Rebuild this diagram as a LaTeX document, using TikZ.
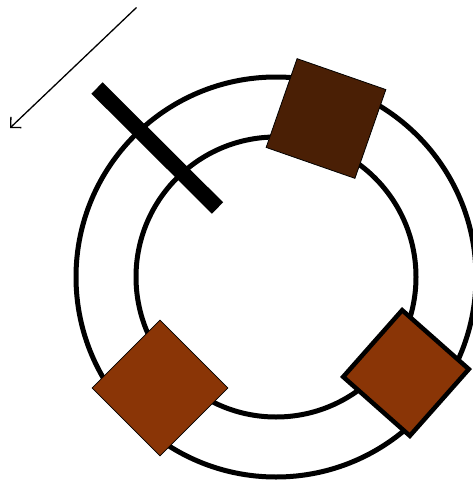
\documentclass[tikz,border=0pt]{standalone}
\usepackage{tikz}
\usetikzlibrary{arrows.meta}
\definecolor{darkrust}{RGB}{74,31,5}
\definecolor{rust}{RGB}{138,53,6}
\def\outerR{200}
\def\innerR{140}
\tikzset{
    ring/.style={line width=5pt},
    block/.style={rectangle, draw, inner sep=0pt, minimum size=#1}
}
\begin{document}
\begin{tikzpicture}[x=1pt, y=-1pt]
\useasboundingbox (0,0) rectangle (473,482);
% rings
\coordinate (c) at (276,277);
\draw[ring] (c) circle[radius=\outerR];
\draw[ring] (c) circle[radius=\innerR];
% bar across the rings
\draw[line width=16pt] (97,88) -- (217.5,208);
% arrow
\coordinate (from) at (136.5,7.5);
\coordinate (to) at (10,128);
\draw[line width=1.3pt, -{Straight Barb[length=7.5pt,width=15pt]}] (from) -- (to);
% blocks
\node[block=94pt, fill=darkrust, line width=0.8pt, rotate=-19.2] (top) at (326,118.5) {};
\node[block=96pt, fill=rust, line width=0.8pt, rotate=45] (left) at (160,388) {};
\node[block=89pt, fill=rust, line width=4.5pt, rotate=-41.5] (right) at (406,373) {};
\end{tikzpicture}
\end{document}
